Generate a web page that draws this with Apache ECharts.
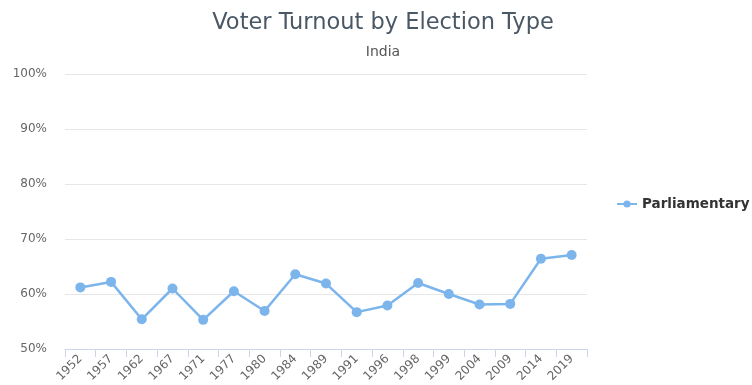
<!DOCTYPE html>
<html><head><meta charset="utf-8">
<script src="https://cdn.jsdelivr.net/npm/echarts@6/dist/echarts.min.js"></script>
<style>html,body{margin:0;padding:0;background:#fff}#c{width:752px;height:385px}</style>
</head><body><div id="c"></div>
<script>
const categories = ['1952','1957','1962','1967','1971','1977','1980','1984','1989','1991','1996','1998','1999','2004','2009','2014','2019'];
const parliamentary = [61.2,62.2,55.4,61.0,55.3,60.5,56.9,63.6,61.9,56.7,57.9,62.0,60.0,58.1,58.2,66.4,67.1];
const yTicks = [50,60,70,80,90,100];
const chart = echarts.init(document.getElementById('c'));
const font = '"DejaVu Sans", Verdana, sans-serif';
chart.setOption({
  animation:false,
  title:{text:'Voter Turnout by Election Type',subtext:'India',left:378,textAlign:'center',top:7,
    textStyle:{fontFamily:font,fontSize:22.5,fontWeight:'normal',color:'#4a5866'},
    subtextStyle:{fontFamily:font,fontSize:14,color:'#555'},itemGap:10},
  legend:{data:['Parliamentary'],orient:'vertical',left:611,top:192,itemWidth:20,itemHeight:9,itemGap:8,
    textStyle:{fontFamily:font,fontSize:13.5,fontWeight:'bold',color:'#333'}},
  grid:{left:65,right:165,top:74,bottom:36},
  xAxis:{type:'category',data:categories,boundaryGap:true,
    axisLine:{lineStyle:{color:'#ccd6eb'}},
    axisTick:{show:true,length:8,lineStyle:{color:'#ccd6eb'}},
    axisLabel:{rotate:45,fontFamily:font,fontSize:12,color:'#666',margin:8,interval:0}},
  yAxis:{type:'value',min:yTicks[0],max:yTicks[yTicks.length-1],interval:10,
    axisLine:{show:false},axisTick:{show:false},
    splitLine:{lineStyle:{color:'#e6e6e6'}},
    axisLabel:{formatter:'{value}%',fontFamily:font,fontSize:12,color:'#666',margin:18}},
  series:[{name:'Parliamentary',type:'line',data:parliamentary,
    symbol:'circle',symbolSize:10,
    lineStyle:{width:2.5,color:'#7cb5ec'},itemStyle:{color:'#7cb5ec'}}]
});
</script></body></html>
